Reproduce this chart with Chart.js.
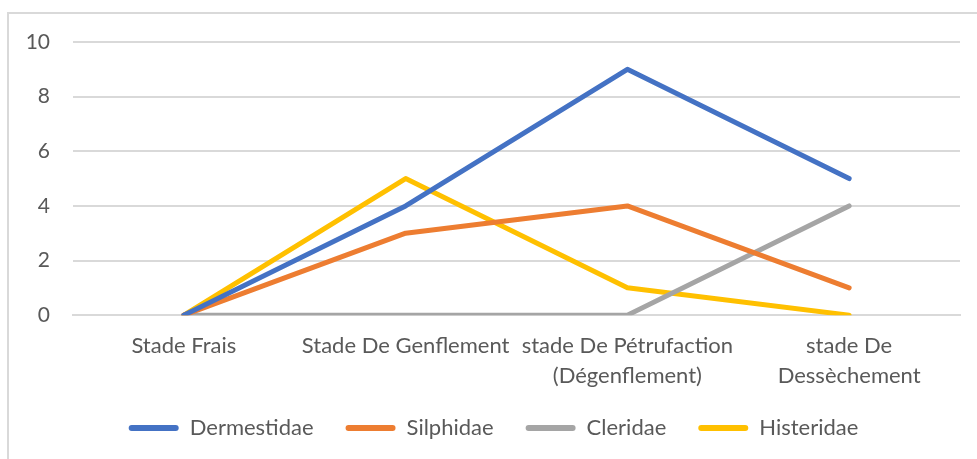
<!DOCTYPE html>
<html>
<head>
<meta charset="utf-8">
<script src="https://cdn.jsdelivr.net/npm/chart.js@4"></script>
<style>
html,body{margin:0;padding:0;background:#fff;overflow:hidden;}
#wrap{position:absolute;left:0;top:0;width:977px;height:459px;}
#frame{position:absolute;left:7px;top:12px;width:1000px;height:500px;border:2px solid #d9d9d9;box-sizing:border-box;}
</style>
</head>
<body>
<div id="frame"></div>
<div id="wrap"><canvas id="c" width="977" height="459"></canvas></div>
<script>
const categories = ["Stade Frais", "Stade De Genflement", ["stade De Pétrufaction", "(Dégenflement)"], ["stade De", "Dessèchement"]];
const dermestidae = [0, 4, 9, 5];
const silphidae = [0, 3, 4, 1];
const cleridae = [0, 0, 0, 4];
const histeridae = [0, 5, 1, 0];
const yTicks = [0, 2, 4, 6, 8, 10];

const FONT = "Lato, 'Open Sans', sans-serif";
const TXT = "#595959";

function ds(label, data, color) {
  return {label, data, borderColor: color, backgroundColor: color, borderWidth: 5,
    pointRadius: 0, pointHoverRadius: 0, tension: 0, borderCapStyle: 'round', borderJoinStyle: 'round', fill: false};
}

new Chart(document.getElementById('c'), {
  type: 'line',
  data: {
    labels: categories,
    datasets: [
      ds("Dermestidae", dermestidae, "#4472C4"),
      ds("Silphidae", silphidae, "#ED7D31"),
      ds("Cleridae", cleridae, "#A5A5A5"),
      ds("Histeridae", histeridae, "#FFC000")
    ]
  },
  options: {
    responsive: false,
    animation: false,
    layout: {padding: {left: 27, right: 17, top: 42, bottom: 10}},
    plugins: {
      tooltip: {enabled: false},
      legend: {
        position: 'bottom',
        title: {display: true, text: '', font: {size: 1, lineHeight: 1}, padding: {top: -23, bottom: 0}},
        labels: {
          font: {family: FONT, size: 22},
          color: TXT,
          boxWidth: 50,
          boxHeight: 6,
          padding: 32,
          useBorderRadius: true,
          borderRadius: 3,
          generateLabels(chart) {
            return chart.data.datasets.map((d, i) => ({
              text: d.label, fillStyle: d.borderColor, strokeStyle: d.borderColor,
              lineWidth: 0, hidden: false, datasetIndex: i, fontColor: TXT, borderRadius: 3
            }));
          }
        }
      }
    },
    scales: {
      x: {
        offset: true,
        grid: {display: false, drawTicks: false},
        border: {display: true, color: '#d9d9d9', width: 2},
        ticks: {font: {family: FONT, size: 22, lineHeight: 1.36}, color: TXT, maxRotation: 0, autoSkip: false, padding: 16}
      },
      y: {
        min: 0, max: 10,
        afterBuildTicks(scale) { scale.ticks = yTicks.map(v => ({value: v})); },
        afterFit(scale) { scale.width = 46; },
        grid: {color: '#d9d9d9', lineWidth: 2, drawTicks: false},
        border: {display: false},
        ticks: {font: {family: FONT, size: 21}, color: TXT, padding: 23}
      }
    }
  }
});
</script>
</body>
</html>
